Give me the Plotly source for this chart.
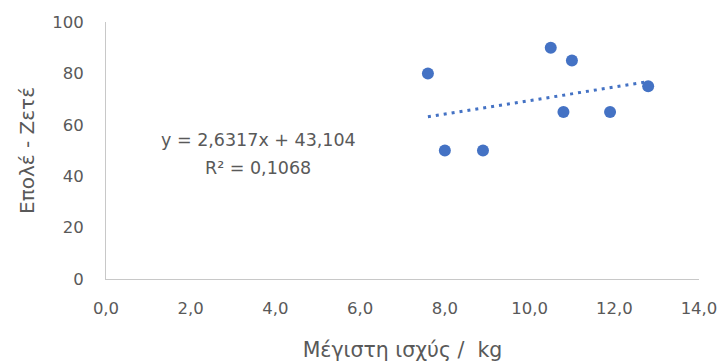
import plotly.graph_objects as go

# Measured values
strength_kg = [7.6, 8.0, 8.9, 10.5, 11.0, 10.8, 11.9, 12.8]
score = [80, 50, 50, 90, 85, 65, 65, 75]

# Linear trendline coefficients (as printed on the chart)
slope = 2.6317
intercept = 43.104
r_squared = 0.1068

x_ticks = [0, 2, 4, 6, 8, 10, 12, 14]
y_ticks = [0, 20, 40, 60, 80, 100]

blue = "#4472C4"
grey_text = "#595959"
axis_grey = "#C8C8C8"
font_family = "DejaVu Sans, sans-serif"

x_lo, x_hi = min(strength_kg), max(strength_kg)
trend_x = [x_lo, x_hi]
trend_y = [slope * v + intercept for v in trend_x]

fig = go.Figure()
fig.add_trace(go.Scatter(
    x=trend_x, y=trend_y, mode="lines",
    line=dict(color=blue, width=3, dash="3px,5px"),
    hoverinfo="skip", showlegend=False,
))
fig.add_trace(go.Scatter(
    x=strength_kg, y=score, mode="markers",
    marker=dict(color=blue, size=12, line=dict(width=0)),
    showlegend=False,
))

def fmt(v, d):
    return f"{v:.{d}f}".replace(".", ",")

# Equation and R² as two centred lines
eq_font = dict(family=font_family, size=17.5, color=grey_text)
fig.add_annotation(
    x=3.6, y=54.1, xref="x", yref="y", showarrow=False,
    text=f"y = {fmt(slope, 4)}x + {fmt(intercept, 3)}", font=eq_font,
)
fig.add_annotation(
    x=3.6, y=43.2, xref="x", yref="y", showarrow=False,
    text=f"R² = {fmt(r_squared, 4)}", font=eq_font,
)

fig.update_layout(
    width=722, height=364,
    margin=dict(l=106, r=23, t=22, b=85),
    paper_bgcolor="white", plot_bgcolor="white",
    separators=",.",
    font=dict(family=font_family, color=grey_text, size=16.5),
    xaxis=dict(
        range=[0, 14], tickvals=x_ticks, tickformat=".1f",
        automargin=False,
        showgrid=False, zeroline=False,
        showline=True, linecolor=axis_grey, linewidth=1,
        ticks="", ticklen=0, ticklabelstandoff=14,
        tickfont=dict(size=16.5, color=grey_text),
        title=dict(text="Μέγιστη ισχύς /\u00a0 kg", standoff=25,
                   font=dict(size=20.5, color=grey_text)),
    ),
    yaxis=dict(
        range=[0, 100], tickvals=y_ticks,
        automargin=False,
        showgrid=False, zeroline=False,
        showline=True, linecolor=axis_grey, linewidth=1,
        ticks="", ticklen=0, ticklabelstandoff=18,
        tickfont=dict(size=16.5, color=grey_text),
        title=dict(text="Επολέ - Ζετέ", standoff=12,
                   font=dict(size=20, color=grey_text)),
    ),
)

fig.write_html("out.html")
